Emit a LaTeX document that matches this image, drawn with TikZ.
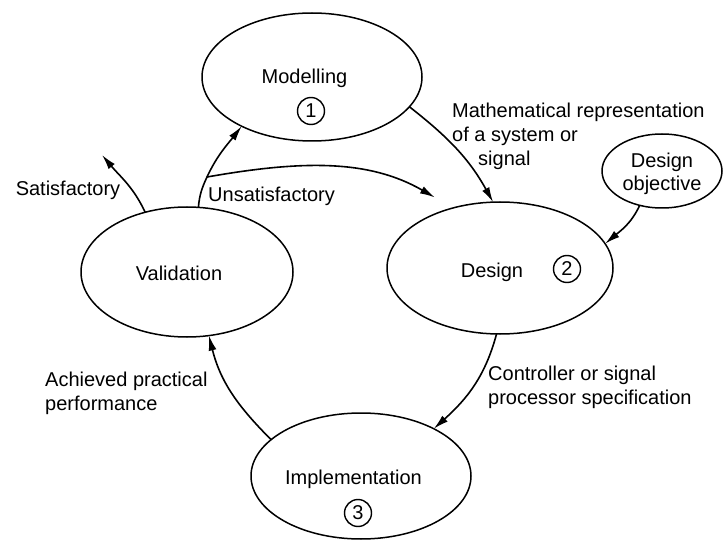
\documentclass[tikz,border=0pt]{standalone}
\usepackage{fontspec}
\setmainfont{Liberation Sans}
\usetikzlibrary{shapes.geometric,arrows.meta}
\begin{document}
\begin{tikzpicture}[x=1pt,y=1pt,
  stage/.style={ellipse,draw,line width=1.5pt,inner sep=0pt,outer sep=0pt},
  lbl/.style={inner sep=0pt,font=\fontsize{20}{24}\selectfont},
  num/.style={circle,draw,line width=1.4pt,minimum size=27pt,inner sep=0pt,
              font=\fontsize{20}{24}\selectfont},
  flow/.style={line width=1.6pt,-{Latex[length=15pt,width=8pt]}},
]
\fill[white] (0,0) rectangle (723,-540);
\useasboundingbox (0,0) rectangle (723,-540);

% the four stages of the cycle and the external design objective
\node[stage,minimum width=220pt,minimum height=128pt] (mod) at (312,-77) {};
\node[stage,minimum width=226pt,minimum height=132pt] (des) at (500,-268) {};
\node[stage,minimum width=212pt,minimum height=130pt] (val) at (187,-272) {};
\node[stage,minimum width=220pt,minimum height=126pt] (imp) at (361,-476) {};
\node[stage,minimum width=120pt,minimum height=74pt] (obj) at (662,-171) {};

% stage names
\node[lbl,anchor=base] (modtxt) at (304.5,-83.3) {Modelling};
\node[lbl,anchor=base] (destxt) at (492,-277.3) {Design};
\node[lbl,anchor=base] (valtxt) at (179,-280.7) {Validation};
\node[lbl,anchor=base] (imptxt) at (353.5,-484.3) {Implementation};
\node[lbl,anchor=north,align=center,font=\fontsize{20}{23}\selectfont]
  (objtxt) at (662,-152.5) {Design\\objective};

% step numbers
\node[num] (n1) at (311,-111) {1};
\node[num] (n2) at (567,-269) {2};
\node[num] (n3) at (358,-513) {3};

% connector labels
\node[lbl,anchor=north west,align=left] (mathtxt) at (452,-102.5)
  {Mathematical representation\\of a system or\\\hspace*{26pt}signal};
\node[lbl,anchor=north west,align=left] (ctrltxt) at (488,-366)
  {Controller or signal\\processor specification};
\node[lbl,anchor=north west,align=left] (perftxt) at (45,-371.5)
  {Achieved practical\\performance};
\node[lbl,anchor=base] (sattxt) at (68,-196) {Satisfactory};
\node[lbl,anchor=base west] (unsattxt) at (208,-201.7) {Unsatisfactory};

% cycle connectors
\draw[flow] (mod.-17) to[out=-38,in=119] (des.96);
\draw[flow] (obj.237) to[out=-115,in=40] (des.13);
\draw[flow] (des.-93) to[out=-105,in=42] (imp.33);
\draw[flow] (imp.158) to[out=135,in=-76] (val.-71);

% validation outcome: back to modelling, or on to design
\coordinate (split) at (207,-177);
\draw[flow] (val.80) to[out=85,in=-115] (split) to[out=65,in=232] (mod.215);
\draw[flow,shorten >=21pt] (split) to[out=10,in=150] (des.128);
\coordinate (sat) at (102,-155);
\draw[flow] (val.125) to[out=115,in=-50] (sat);
\end{tikzpicture}
\end{document}
